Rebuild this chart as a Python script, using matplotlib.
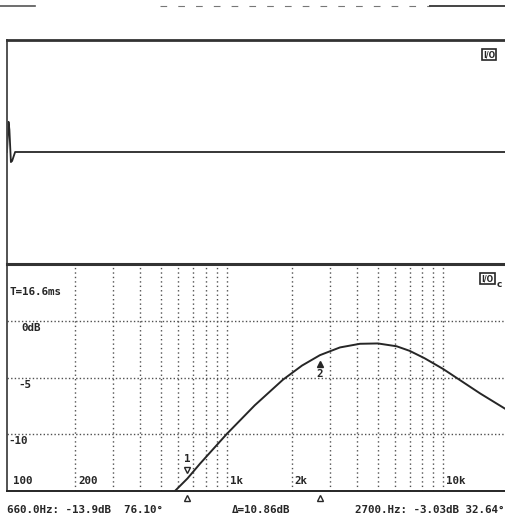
import numpy as np
import matplotlib.pyplot as plt
from matplotlib.lines import Line2D

# impulse response (upper trace)
imp_t = [0.0, 0.05, 0.08, 0.13, 0.17, 0.27, 16.6]
imp_amp = [0.0, 0.27, 0.20, -0.09, -0.08, 0.0, 0.0]

# frequency response (lower trace)
freq = [578, 660, 754, 1000, 1350, 1820, 2230, 2700, 3340, 4130, 5000,
        6100, 7000, 8200, 10000, 12000, 14800, 19500]
level_db = [-15.0, -13.9, -12.6, -10.0, -7.45, -5.2, -3.95, -3.03, -2.35,
            -2.03, -2.0, -2.25, -2.65, -3.3, -4.25, -5.25, -6.4, -7.8]

grid_freqs = [200, 300, 400, 500, 600, 700, 800, 900, 1000,
              2000, 3000, 4000, 5000, 6000, 7000, 8000, 9000, 10000]
freq_labels = {100: "100", 200: "200", 1000: "1k", 2000: "2k", 10000: "10k"}
grid_db = [0, -5, -10]
db_labels = ["0dB", "-5", "-10"]

markers = [(660, -13.9, "1"), (2700, -3.03, "2")]
readout_1 = "660.0Hz: -13.9dB  76.10°"
readout_delta = "Δ=10.86dB"
readout_2 = "2700.Hz: -3.03dB 32.64°"

ink = "#262626"
grid_col = "#505050"
font = dict(family="DejaVu Sans Mono", weight="bold", size=7.8, color=ink)

fig = plt.figure(figsize=(5.06, 5.25), dpi=100)

# upper panel: impulse
ax1 = fig.add_axes([7 / 506, 1 - 264 / 525, 499 / 506, 224 / 525])
ax1.plot(imp_t, imp_amp, color=ink, lw=1.3)
ax1.set_xlim(0, 16.6)
ax1.set_ylim(-1, 1)
ax1.set_xticks([])
ax1.set_yticks([])
for s in ["right", "bottom"]:
    ax1.spines[s].set_visible(False)
ax1.spines["top"].set_linewidth(2.0)
ax1.spines["top"].set_color("#333333")
ax1.spines["left"].set_linewidth(1.3)
ax1.spines["left"].set_color("#444444")
ax1.text(0.978, 0.955, "I/O", transform=ax1.transAxes, ha="right", va="top",
         family="DejaVu Sans", weight="bold", size=5.5, color=ink,
         bbox=dict(boxstyle="square,pad=0.15", fc="white", ec=ink, lw=1.2))

# lower panel: frequency response
ax2 = fig.add_axes([7 / 506, 1 - 491 / 525, 499 / 506, 227 / 525])
ax2.set_xscale("log")
ax2.set_xlim(97, 19500)
ax2.set_ylim(-15, 5)
ax2.set_xticks([])
ax2.set_yticks([])
ax2.minorticks_off()
ax2.spines["right"].set_visible(False)
ax2.spines["top"].set_linewidth(2.2)
ax2.spines["top"].set_color("#333333")
ax2.spines["left"].set_linewidth(1.3)
ax2.spines["left"].set_color("#444444")
ax2.spines["bottom"].set_linewidth(1.4)
ax2.spines["bottom"].set_color(ink)

for f in grid_freqs:
    ax2.axvline(f, color=grid_col, lw=1.0, ls=(0, (1, 2.2)))
for d in grid_db:
    ax2.axhline(d, color=grid_col, lw=1.0, ls=(0, (1, 1.6)))

for f, lab in freq_labels.items():
    ax2.annotate(lab, (f, -15), xytext=(2.2, 3.5), textcoords="offset points",
                 ha="left", va="bottom", **font)

db_x = [14, 11, 1]
for d, lab, dx in zip(grid_db, db_labels, db_x):
    ax2.annotate(lab, (0, d), xycoords=("axes fraction", "data"),
                 xytext=(dx * 0.72, -1.5), textcoords="offset points",
                 ha="left", va="top", **font)

ax2.text(0.006, 0.875, "T=16.6ms", transform=ax2.transAxes,
         ha="left", va="center", **font)
ax2.text(0.975, 0.955, "I/O", transform=ax2.transAxes, ha="right", va="top",
         family="DejaVu Sans", weight="bold", size=5.5, color=ink,
         bbox=dict(boxstyle="square,pad=0.15", fc="white", ec=ink, lw=1.2))
ax2.text(0.992, 0.93, "c", transform=ax2.transAxes, ha="right", va="top",
         family="DejaVu Sans", weight="bold", size=6.5, color=ink)

ax2.plot(freq, level_db, color=ink, lw=1.4, clip_on=True)

# cursor markers
f1, d1, n1 = markers[0]
ax2.plot([f1], [d1 + 0.75], marker="v", ms=4, mfc="none", mec=ink, mew=1.0)
ax2.text(f1, d1 + 1.3, n1, ha="center", va="bottom", **font)
f2, d2, n2 = markers[1]
ax2.plot([f2], [d2 - 0.75], marker="^", ms=4, mfc=ink, mec=ink)
ax2.text(f2, d2 - 1.2, n2, ha="center", va="top", **font)
for f, d, n in markers:
    ax2.plot([f], [-15.65], marker="^", ms=4, mfc="none", mec=ink, mew=1.0,
             clip_on=False)

# readout line
fig.text(7 / 506, 1 - 510 / 525, readout_1, ha="left", va="center", **font)
fig.text(232 / 506, 1 - 510 / 525, readout_delta, ha="left", va="center", **font)
fig.text(505 / 506, 1 - 510 / 525, readout_2, ha="right", va="center", **font)

# remnant of the panel above
y_top = 1 - 6 / 525
fig.add_artist(Line2D([0, 35 / 506], [y_top, y_top], color="#555555", lw=1.2))
fig.add_artist(Line2D([160 / 506, 430 / 506], [y_top, y_top], color="#777777",
                      lw=0.8, ls=(0, (6, 10))))
fig.add_artist(Line2D([430 / 506, 1], [y_top, y_top], color="#444444", lw=1.4))

fig.savefig("out.png", dpi=100)
